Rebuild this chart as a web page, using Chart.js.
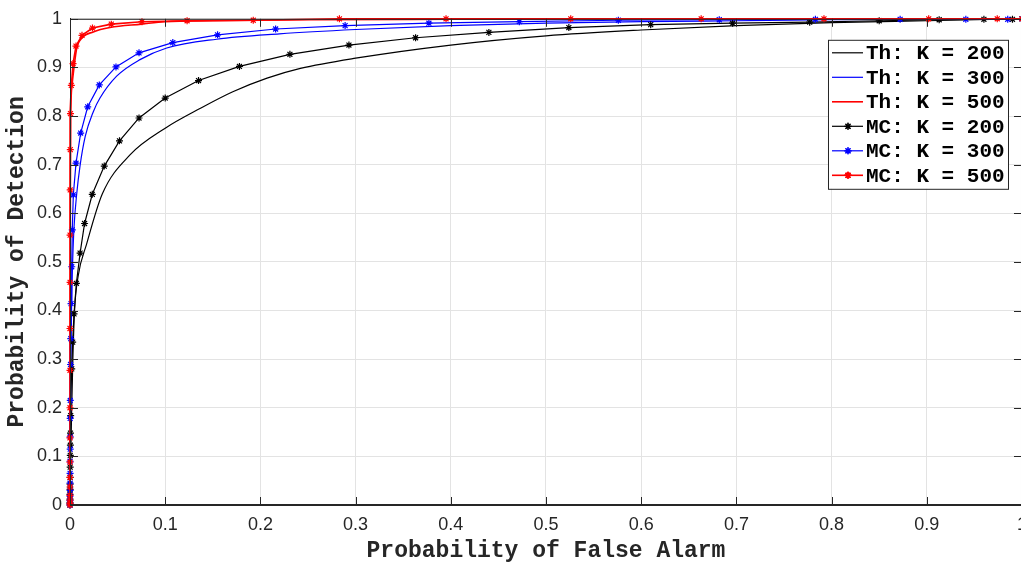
<!DOCTYPE html>
<html>
<head>
<meta charset="utf-8">
<script src="https://cdn.jsdelivr.net/npm/chart.js@4.4.1/dist/chart.umd.min.js"></script>
<style>
  html, body { margin: 0; padding: 0; background: #fff; overflow: hidden; }
  #wrap { width: 1036px; height: 563px; }
</style>
</head>
<body>
<div id="wrap"><canvas id="rocChart" width="1036" height="563"></canvas></div>
<script>
// tick labels
const xTickLabels = ["0", "0.1", "0.2", "0.3", "0.4", "0.5", "0.6", "0.7", "0.8", "0.9", "1"];
const yTickLabels = ["0", "0.1", "0.2", "0.3", "0.4", "0.5", "0.6", "0.7", "0.8", "0.9", "1"];

// theory curves
const thK200X = [0, 0.0008, 0.0018, 0.003, 0.0048, 0.0085, 0.0175, 0.034, 0.063, 0.1, 0.137, 0.171, 0.207, 0.242, 0.3, 0.4, 0.5, 0.6, 0.7, 0.8, 0.9, 1];
const thK200Y = [0, 0.1, 0.2, 0.3, 0.4, 0.47, 0.537, 0.64, 0.72, 0.775, 0.816, 0.85, 0.878, 0.898, 0.919, 0.946, 0.965, 0.977, 0.986, 0.992, 0.996, 1];

const thK300X = [0, 0.0005, 0.001, 0.0018, 0.0028, 0.0042, 0.007, 0.0105, 0.016, 0.0245, 0.0315, 0.049, 0.0735, 0.1016, 0.154, 0.22, 0.3, 0.4, 0.5, 0.6, 0.7, 0.8, 0.9, 1];
const thK300Y = [0, 0.175, 0.297, 0.427, 0.502, 0.57, 0.639, 0.697, 0.758, 0.809, 0.837, 0.882, 0.916, 0.94, 0.958, 0.969, 0.978, 0.986, 0.991, 0.994, 0.996, 0.998, 0.999, 1];

const thK500X = [0, 0.0002, 0.0004, 0.0008, 0.002, 0.0042, 0.007, 0.0123, 0.0245, 0.042, 0.075, 0.1, 0.15, 0.25, 0.4, 0.6, 1];
const thK500Y = [0, 0.45, 0.65, 0.8, 0.86, 0.9, 0.939, 0.96, 0.973, 0.982, 0.989, 0.994, 0.996, 0.998, 0.999, 1, 1];

// Monte Carlo points
const mcK200X = [0, 0, 0, 0, 0.0001, 0.0001, 0.0002, 0.0002, 0.0003, 0.0004, 0.0005, 0.0007, 0.0018, 0.0028, 0.0042, 0.0067, 0.0106, 0.0153, 0.0234, 0.036, 0.052, 0.0725, 0.1, 0.135, 0.178, 0.231, 0.293, 0.363, 0.44, 0.524, 0.61, 0.696, 0.777, 0.85, 0.913, 0.96, 0.99, 1];
const mcK200Y = [0, 0.005, 0.012, 0.022, 0.032, 0.043, 0.057, 0.078, 0.102, 0.123, 0.148, 0.184, 0.28, 0.335, 0.393, 0.456, 0.518, 0.579, 0.639, 0.697, 0.749, 0.796, 0.837, 0.873, 0.902, 0.927, 0.946, 0.961, 0.972, 0.982, 0.988, 0.991, 0.993, 0.996, 0.998, 0.999, 0.999, 1];

const mcK300X = [0, 0, 0, 0, 0.0001, 0.0001, 0.0001, 0.0001, 0.0002, 0.0002, 0.0002, 0.0003, 0.0006, 0.0008, 0.0011, 0.0018, 0.0024, 0.0035, 0.0063, 0.0112, 0.0186, 0.0308, 0.0483, 0.0725, 0.108, 0.155, 0.216, 0.289, 0.377, 0.472, 0.576, 0.682, 0.783, 0.872, 0.941, 0.985, 1];
const mcK300Y = [0, 0.003, 0.009, 0.018, 0.03, 0.045, 0.065, 0.09, 0.115, 0.14, 0.178, 0.215, 0.289, 0.342, 0.414, 0.49, 0.566, 0.638, 0.703, 0.765, 0.819, 0.864, 0.901, 0.93, 0.951, 0.967, 0.979, 0.986, 0.991, 0.994, 0.997, 0.998, 0.999, 0.999, 0.999, 0.999, 1];

const mcK500X = [0, 0, 0, 0, 0, 0, 0, 0, 0, 0, 0, 0.0001, 0.0001, 0.0002, 0.0003, 0.0005, 0.0014, 0.0032, 0.0063, 0.0126, 0.0236, 0.0434, 0.0756, 0.123, 0.1925, 0.283, 0.395, 0.526, 0.663, 0.792, 0.902, 0.974, 1];
const mcK500Y = [0, 0.003, 0.01, 0.02, 0.037, 0.057, 0.088, 0.138, 0.2, 0.277, 0.363, 0.458, 0.555, 0.648, 0.731, 0.805, 0.863, 0.908, 0.944, 0.966, 0.981, 0.989, 0.994, 0.996, 0.997, 1, 1, 1, 1, 1, 1, 1, 1];

const seriesLabels = ["Th: K = 200", "Th: K = 300", "Th: K = 500", "MC: K = 200", "MC: K = 300", "MC: K = 500"];
const seriesColors = ["#000000", "#0000ff", "#ff0000", "#000000", "#0000ff", "#ff0000"];

const toPoints = (xs, ys) => xs.map((x, i) => ({ x: x, y: ys[i] }));

const seriesData = [
  toPoints(thK200X, thK200Y),
  toPoints(thK300X, thK300Y),
  toPoints(thK500X, thK500Y),
  toPoints(mcK200X, mcK200Y),
  toPoints(mcK300X, mcK300Y),
  toPoints(mcK500X, mcK500Y)
];

const datasets = seriesData.map((pts, i) => ({
  label: seriesLabels[i],
  data: pts,
  showLine: true,
  borderColor: seriesColors[i],
  backgroundColor: seriesColors[i],
  borderWidth: i === 2 || i === 5 ? 1.6 : 1.2,
  pointStyle: "star",
  pointRadius: i < 3 ? 0 : 3.5,
  pointBorderWidth: 1.2,
  pointHoverRadius: 0,
  tension: 0,
  cubicInterpolationMode: i < 3 ? "monotone" : "default",
  order: 6 - i,
  clip: 6
}));

const axisColor = "#262626";

// Matlab-like box, inward ticks and legend inside the axes
const boxPlugin = {
  id: "matlabBox",
  afterDatasetsDraw(chart) {
    const { ctx, chartArea: a, scales } = chart;
    ctx.save();
    ctx.strokeStyle = axisColor;
    ctx.lineWidth = 1;
    ctx.strokeRect(a.left + 0.5, a.top + 0.5, a.right - a.left - 1, a.bottom - a.top - 1);
    const tl = 8;
    ctx.beginPath();
    scales.x.ticks.forEach(t => {
      const px = Math.round(scales.x.getPixelForValue(t.value)) + 0.5;
      ctx.moveTo(px, a.bottom); ctx.lineTo(px, a.bottom - tl);
      ctx.moveTo(px, a.top); ctx.lineTo(px, a.top + tl);
    });
    scales.y.ticks.forEach(t => {
      const py = Math.round(scales.y.getPixelForValue(t.value)) + 0.5;
      ctx.moveTo(a.left, py); ctx.lineTo(a.left + tl, py);
      ctx.moveTo(a.right, py); ctx.lineTo(a.right - tl, py);
    });
    ctx.stroke();

    // legend
    const bx = a.right - 194, by = a.top + 21, bw = 180, bh = 149;
    ctx.fillStyle = "#ffffff";
    ctx.fillRect(bx, by, bw, bh);
    ctx.strokeStyle = axisColor;
    ctx.strokeRect(bx + 0.5, by + 0.5, bw, bh);
    ctx.font = "bold 21px 'Liberation Mono', 'DejaVu Sans Mono', monospace";
    ctx.textBaseline = "middle";
    ctx.textAlign = "left";
    chart.data.datasets.forEach((ds, i) => {
      const cy = by + 13 + i * 24.5;
      ctx.strokeStyle = ds.borderColor;
      ctx.lineWidth = ds.borderWidth;
      ctx.beginPath();
      ctx.moveTo(bx + 4, cy);
      ctx.lineTo(bx + 35, cy);
      ctx.stroke();
      if (ds.pointRadius > 0) {
        Chart.helpers.drawPoint(ctx, { pointStyle: "star", radius: 3.5, borderWidth: 1.2 }, bx + 20, cy);
        ctx.stroke();
      }
      ctx.fillStyle = "#000000";
      ctx.fillText(ds.label, bx + 38, cy + 1);
    });
    ctx.restore();
  }
};

new Chart(document.getElementById("rocChart").getContext("2d"), {
  type: "scatter",
  data: { datasets: datasets },
  plugins: [boxPlugin],
  options: {
    responsive: false,
    animation: false,
    events: [],
    layout: { padding: { top: 17, right: 8, left: 0, bottom: 0 } },
    plugins: { legend: { display: false }, tooltip: { enabled: false } },
    scales: {
      x: {
        type: "linear",
        min: 0,
        max: 1,
        afterFit: s => { s.height = 58; },
        ticks: {
          stepSize: 0.1,
          padding: 9,
          color: axisColor,
          font: { family: "'Liberation Sans', Arial, sans-serif", size: 18 },
          callback: (v, i) => xTickLabels[i]
        },
        grid: { color: "#e3e3e3", lineWidth: 1, drawTicks: false },
        border: { color: axisColor, width: 1 },
        title: {
          display: true,
          text: "Probability of False Alarm",
          color: axisColor,
          padding: { top: 0, bottom: 0 },
          font: { family: "'Liberation Mono', 'DejaVu Sans Mono', monospace", size: 23, weight: "bold", lineHeight: 1 }
        }
      },
      y: {
        type: "linear",
        min: 0,
        max: 1,
        afterFit: s => { s.width = 70; },
        ticks: {
          stepSize: 0.1,
          padding: 8,
          color: axisColor,
          font: { family: "'Liberation Sans', Arial, sans-serif", size: 18 },
          callback: (v, i) => yTickLabels[i]
        },
        grid: { color: "#e3e3e3", lineWidth: 1, drawTicks: false },
        border: { color: axisColor, width: 1 },
        title: {
          display: true,
          text: "Probability of Detection",
          color: axisColor,
          padding: { top: 6, bottom: 0 },
          font: { family: "'Liberation Mono', 'DejaVu Sans Mono', monospace", size: 23, weight: "bold", lineHeight: 1 }
        }
      }
    }
  }
});
</script>
</body>
</html>
